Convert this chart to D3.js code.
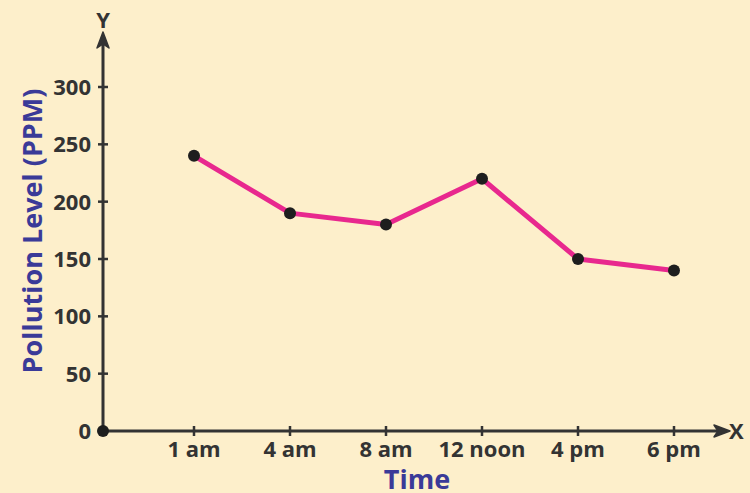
<!DOCTYPE html>
<html>
<head>
<meta charset="utf-8">
<script src="https://cdn.jsdelivr.net/npm/d3@7"></script>
<style>
  body { margin: 0; background: #fdefcb; }
  svg { display: block; font-family: "Open Sans", Lato, sans-serif; font-weight: bold; }
</style>
</head>
<body>
<script>
var times = ["1 am", "4 am", "8 am", "12 noon", "4 pm", "6 pm"];
var levels = [240, 190, 180, 220, 150, 140];
var yTicks = [0, 50, 100, 150, 200, 250, 300];

var width = 750, height = 493;
var ox = 103, oy = 431;
var ink = "#333333";

var svg = d3.select("body").append("svg")
    .attr("width", width)
    .attr("height", height);

svg.append("rect").attr("width", width).attr("height", height).attr("fill", "#fdefcb");

var x = d3.scalePoint().domain(times).range([194, 674]);
var y = d3.scaleLinear().domain([0, 300]).range([oy, 87]);

// axes lines with arrows
svg.append("line").attr("x1", ox).attr("y1", oy).attr("x2", ox).attr("y2", 38)
    .attr("stroke", ink).attr("stroke-width", 3);
svg.append("line").attr("x1", ox).attr("y1", oy).attr("x2", 725).attr("y2", oy)
    .attr("stroke", ink).attr("stroke-width", 3);

svg.append("path")
    .attr("d", "M" + ox + ",32 L" + (ox - 6) + ",48 L" + ox + ",44 L" + (ox + 6) + ",48 Z")
    .attr("fill", ink).attr("stroke", ink).attr("stroke-width", 1.5).attr("stroke-linejoin", "round");
svg.append("path")
    .attr("d", "M730," + oy + " L714," + (oy - 6) + " L718," + oy + " L714," + (oy + 6) + " Z")
    .attr("fill", ink).attr("stroke", ink).attr("stroke-width", 1.5).attr("stroke-linejoin", "round");

svg.append("text").attr("x", ox).attr("y", 28).attr("text-anchor", "middle")
    .attr("fill", ink).attr("font-size", 22).text("Y");
svg.append("text").attr("x", 729).attr("y", oy + 8).attr("text-anchor", "start")
    .attr("fill", ink).attr("font-size", 22).text("X");

// y ticks
var yt = svg.append("g");
yTicks.filter(function(d) { return d > 0; }).forEach(function(d) {
  yt.append("line").attr("x1", ox - 5).attr("x2", ox + 5)
    .attr("y1", y(d)).attr("y2", y(d)).attr("stroke", ink).attr("stroke-width", 2.5);
});
yTicks.forEach(function(d) {
  yt.append("text").attr("x", 91).attr("y", y(d)).attr("dy", "0.36em")
    .attr("text-anchor", "end").attr("fill", ink).attr("font-size", 22).text(d);
});

// x ticks
var xt = svg.append("g");
times.forEach(function(d) {
  xt.append("line").attr("x1", x(d)).attr("x2", x(d))
    .attr("y1", oy - 5).attr("y2", oy + 5).attr("stroke", ink).attr("stroke-width", 2.5);
  xt.append("text").attr("x", x(d)).attr("y", 457).attr("text-anchor", "middle")
    .attr("fill", ink).attr("font-size", 22).text(d);
});

// titles
svg.append("text").attr("x", 417).attr("y", 489).attr("text-anchor", "middle")
    .attr("fill", "#3a3a98").attr("font-size", 27).text("Time");
svg.append("text").attr("transform", "translate(42,231) rotate(-90)")
    .attr("text-anchor", "middle").attr("fill", "#3a3a98").attr("font-size", 27)
    .text("Pollution Level (PPM)");

// line
var line = d3.line()
    .x(function(d, i) { return x(times[i]); })
    .y(function(d) { return y(d); });

svg.append("path").datum(levels)
    .attr("d", line)
    .attr("fill", "none")
    .attr("stroke", "#e8288e")
    .attr("stroke-width", 5)
    .attr("stroke-linejoin", "round");

svg.selectAll(".pt").data(levels).enter().append("circle")
    .attr("cx", function(d, i) { return x(times[i]); })
    .attr("cy", function(d) { return y(d); })
    .attr("r", 6)
    .attr("fill", "#1e1e1e");

svg.append("circle").attr("cx", ox).attr("cy", y(0)).attr("r", 6).attr("fill", "#1e1e1e");
</script>
</body>
</html>
